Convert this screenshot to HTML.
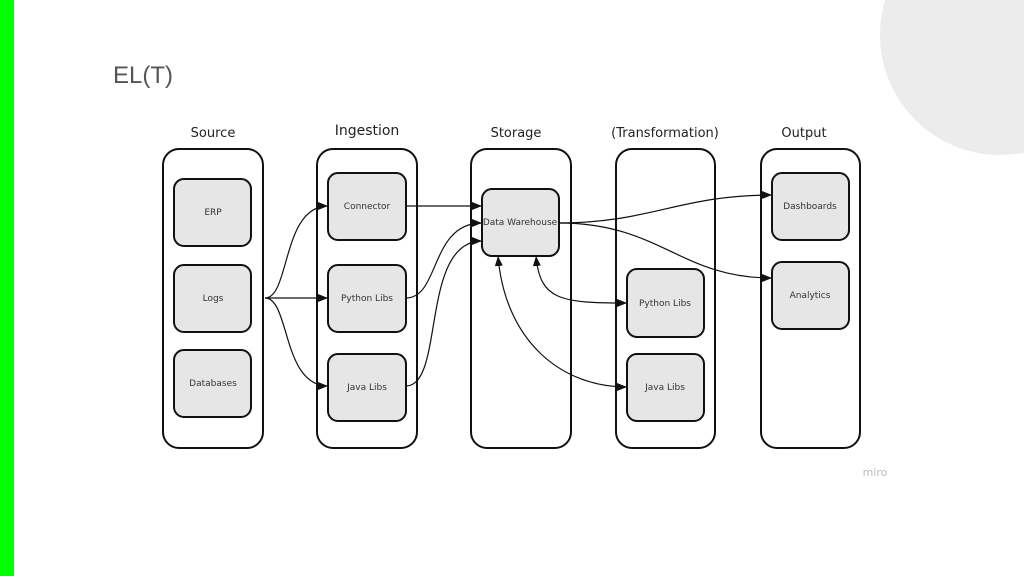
<!DOCTYPE html>
<html><head><style>
body{margin:0;width:1024px;height:576px;background:#fff;overflow:hidden;position:relative;font-family:"DejaVu Sans","Liberation Sans",sans-serif}
.green{position:absolute;left:0;top:0;width:14px;height:576px;background:#00ff00}
.circ{position:absolute;left:880px;top:-85px;width:240px;height:240px;border-radius:50%;background:#ececec}
.title{position:absolute;left:113px;top:62px;font:24px "Liberation Sans",sans-serif;color:#555}
</style></head><body>
<div class="circ"></div>
<div class="green"></div>
<div class="title">EL(T)</div>
<svg width="1024" height="576" style="position:absolute;left:0;top:0" font-family="DejaVu Sans, Liberation Sans, sans-serif">
<defs><marker id="a" markerWidth="10" markerHeight="8" refX="10" refY="4" orient="auto" markerUnits="userSpaceOnUse"><path d="M0,0L10,4L0,8z" fill="#111"/></marker>
<marker id="b" markerWidth="10" markerHeight="8" refX="10" refY="4" orient="auto-start-reverse" markerUnits="userSpaceOnUse"><path d="M0,0L10,4L0,8z" fill="#111"/></marker></defs>
<g font-size="13" fill="#222" text-anchor="middle">
<text x="213" y="137">Source</text><text x="367" y="135" font-size="14">Ingestion</text><text x="516" y="137">Storage</text><text x="665" y="137">(Transformation)</text><text x="804" y="137">Output</text>
</g>
<g fill="none" stroke="#111" stroke-width="2">
<rect x="163" y="149" width="100" height="299" rx="16"/>
<rect x="317" y="149" width="100" height="299" rx="16"/>
<rect x="471" y="149" width="100" height="299" rx="16"/>
<rect x="616" y="149" width="99" height="299" rx="16"/>
<rect x="761" y="149" width="99" height="299" rx="16"/>
</g>
<g fill="#e6e6e6" stroke="#111" stroke-width="2">
<rect x="174" y="179" width="77" height="67" rx="10"/><rect x="174" y="265" width="77" height="67" rx="10"/><rect x="174" y="350" width="77" height="67" rx="10"/>
<rect x="328" y="173" width="78" height="67" rx="10"/><rect x="328" y="265" width="78" height="67" rx="10"/><rect x="328" y="354" width="78" height="67" rx="10"/>
<rect x="482" y="189" width="77" height="67" rx="10"/>
<rect x="627" y="269" width="77" height="68" rx="10"/><rect x="627" y="354" width="77" height="67" rx="10"/>
<rect x="772" y="173" width="77" height="67" rx="10"/><rect x="772" y="262" width="77" height="67" rx="10"/>
</g>
<g font-size="9" fill="#333" text-anchor="middle">
<text x="213" y="215">ERP</text><text x="213" y="301">Logs</text><text x="213" y="386">Databases</text>
<text x="367" y="209">Connector</text><text x="367" y="301">Python Libs</text><text x="367" y="390">Java Libs</text>
<text x="520" y="225">Data Warehouse</text>
<text x="665" y="306">Python Libs</text><text x="665" y="390">Java Libs</text>
<text x="810" y="209">Dashboards</text><text x="810" y="298">Analytics</text>
</g>
<text x="875" y="476" font-size="11" fill="#bbb" text-anchor="middle">miro</text>
<g fill="none" stroke="#111" stroke-width="1.2">
<path d="M265,298 C290,298 282,206 328,206" marker-end="url(#a)"/>
<path d="M265,298 L328,298" marker-end="url(#a)"/>
<path d="M265,298 C290,298 282,386 328,386" marker-end="url(#a)"/>
<path d="M406,206 L482,206" marker-end="url(#a)"/>
<path d="M406,298 C440,298 430,223 482,223" marker-end="url(#a)"/>
<path d="M406,386 C445,386 420,241 482,241" marker-end="url(#a)"/>
<path d="M559,223 C650,223 680,195 772,195" marker-end="url(#a)"/>
<path d="M559,223 C660,223 680,278 772,278" marker-end="url(#a)"/>
<path d="M536,256 C540,300 560,303 627,303" marker-start="url(#b)" marker-end="url(#a)"/>
<path d="M498,256 C505,340 560,387 627,387" marker-start="url(#b)" marker-end="url(#a)"/>
</g>
</svg>
</body></html>
